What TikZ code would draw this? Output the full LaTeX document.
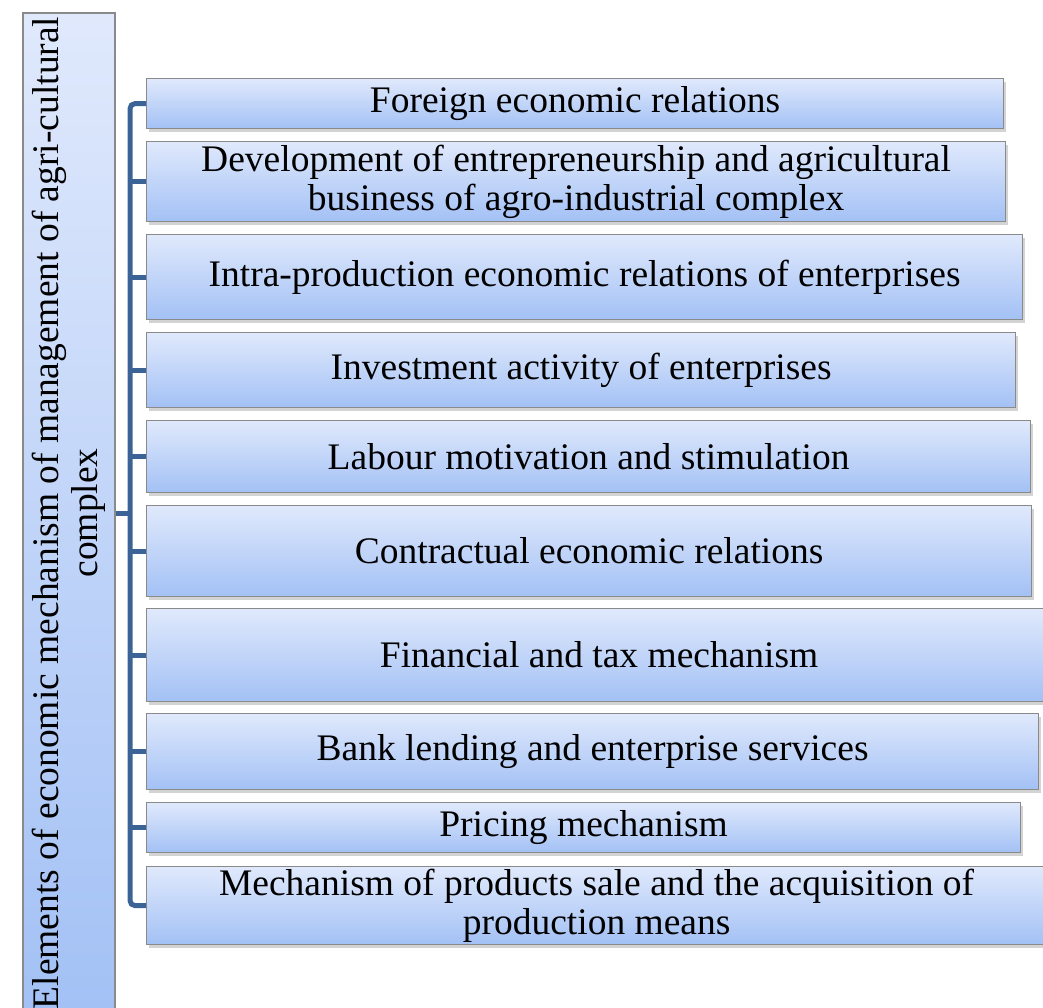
\documentclass[tikz,border=0pt]{standalone}
\usepackage{fontspec}
\setmainfont{Liberation Serif}
\usepackage{tikz}
\usetikzlibrary{shadows}
\definecolor{boxtop}{HTML}{E0E9FC}
\definecolor{boxbot}{HTML}{A3C1F5}
\definecolor{boxline}{HTML}{8A8A8A}
\definecolor{linkblue}{HTML}{3B6396}
\newcommand{\boxfont}{\fontsize{37.5}{39}\selectfont}

\begin{document}
\begin{tikzpicture}[x=1pt,y=-1pt,
  link/.style={draw=linkblue,line width=5pt},
  elem/.style={draw=boxline,line width=1.2pt,top color=boxtop,bottom color=boxbot,
    drop shadow={opacity=0.35,shadow xshift=2pt,shadow yshift=-3pt},
    anchor=north west,inner sep=0pt,align=center,font=\boxfont}]
  \useasboundingbox (0,0) rectangle (1043,1008);

  \node[draw=boxline,line width=1.2pt,top color=boxtop,bottom color=boxbot,
    minimum width=92pt,minimum height=1000pt,inner sep=0pt] (title) at (69,513) {};
  \node[rotate=90,align=center,inner sep=0pt,font=\boxfont] (titletext) at (title.center)
    {Elements of economic mechanism of management of agri-cultural\\complex};

  \node[elem,minimum width=857pt,minimum height=50pt] (f1) at (146,78) {Foreign economic relations};
  \node[elem,minimum width=859pt,minimum height=80pt] (f2) at (146,141) {Development of entrepreneurship and agricultural\\business of agro-industrial complex};
  \node[elem,minimum width=876pt,minimum height=85pt] (f3) at (146,234) {Intra-production economic relations of enterprises};
  \node[elem,minimum width=869pt,minimum height=75pt] (f4) at (146,332) {Investment activity of enterprises};
  \node[elem,minimum width=884pt,minimum height=72pt] (f5) at (146,420) {Labour motivation and stimulation};
  \node[elem,minimum width=885pt,minimum height=91pt] (f6) at (146,505) {Contractual economic relations};
  \node[elem,minimum width=905pt,minimum height=93pt] (f7) at (146,608) {Financial and tax mechanism};
  \node[elem,minimum width=892pt,minimum height=76pt] (f8) at (146,713) {Bank lending and enterprise services};
  \node[elem,minimum width=874pt,minimum height=50pt] (f9) at (146,802) {Pricing mechanism};
  \node[elem,minimum width=900pt,minimum height=78pt] (f10) at (146,866) {Mechanism of products sale and the acquisition of\\production means};

  \coordinate (bus) at (130,0);
  \draw[link,rounded corners=5pt] (f1.west) -- (f1.west -| bus) |- (f10.west);
  \foreach \n in {f2,f3,f4,f5,f6,f7,f8,f9}
    \draw[link] (\n.west) -- (\n.west -| bus);
  \draw[link] (title.east) -- (title.east -| bus);
\end{tikzpicture}
\end{document}
